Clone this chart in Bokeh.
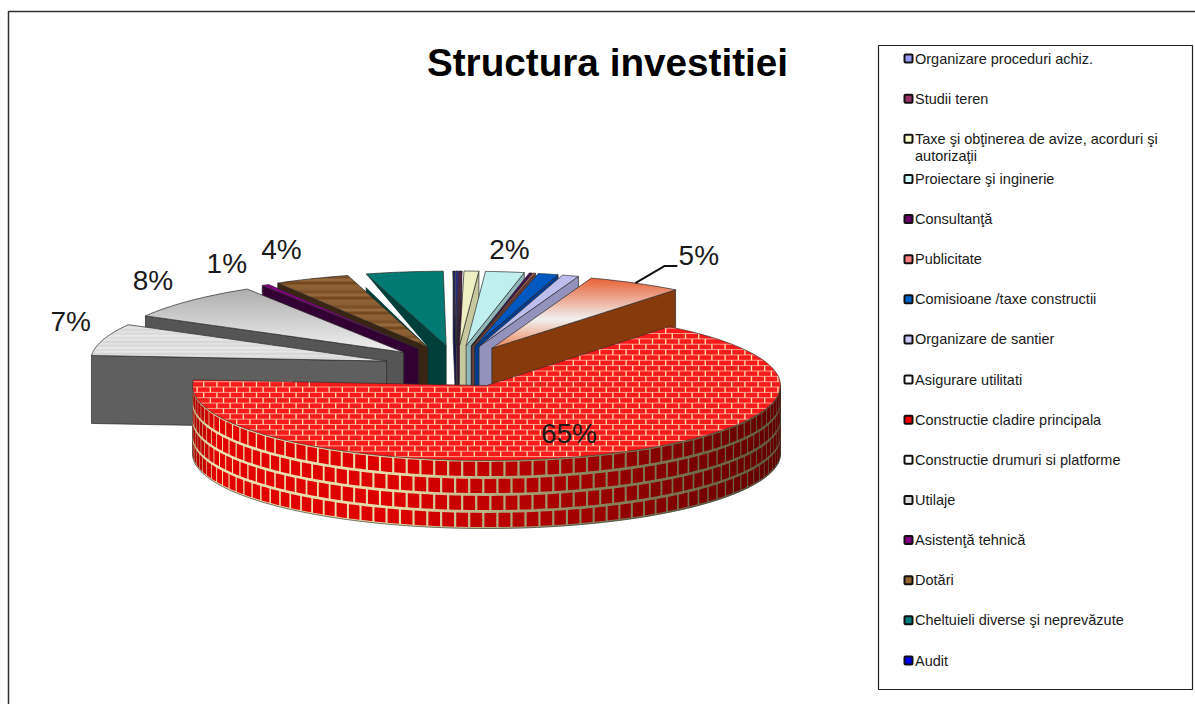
import math
import numpy as np
from bokeh.plotting import figure
from bokeh.models import Range1d
from bokeh.core.properties import value
from bokeh.embed import file_html
from bokeh.resources import INLINE

# ---------- data ----------
title_text = "Structura investitiei"
categories = ["Organizare proceduri achiz.", "Studii teren",
              "Taxe şi obţinerea de avize, acorduri şi\nautorizaţii",
              "Proiectare şi inginerie", "Consultanţă", "Publicitate",
              "Comisioane /taxe constructii", "Organizare de santier",
              "Asigurare utilitati", "Constructie cladire principala",
              "Constructie drumuri si platforme", "Utilaje", "Asistenţă tehnică",
              "Dotări", "Cheltuieli diverse şi neprevăzute", "Audit"]
shares = [0.15, 0.15, 0.8, 2.1, 0.15, 0.15, 1.1, 0.9, 5.2, 65.5, 6.9, 8.0, 0.4, 4.1, 4.2, 0.1]
shown_labels = {3: "2%", 8: "5%", 9: "65%", 10: "7%", 11: "8%", 12: "1%", 13: "4%"}

# ---------- styles ----------
legend_fill = ["#9999FF", "#993366", "#FFFFCC", "#CCFFFF", "#660066", "#FF8080", "#0066CC", "#CCCCFF",
               "#FFFFFF", "#FF0000", "#FFFFFF", "#DDDDDD", "#800080", "#996633", "#008080", "#0000FF"]
top_fill = ["#2A2A90", "#5A2050", "#EFEFC4", "#BFEFEF", "#500060", "#A06050", "#0058C0", "#BEBEEE",
            "#F0F0F0", "#FA1A1A", "#DCDCDC", "#D0D0D0", "#800080", "#85572B", "#007A72", "#1A1A80"]
side_fill = ["#181860", "#3A1435", "#C8C89E", "#90B8B8", "#300038", "#704038", "#003C90", "#9292BC",
             "#873A0C", "#900000", "#5F5F5F", "#555555", "#330033", "#3A2412", "#003F3A", "#101050"]
OUTLINE = "#2A2A2A"
MAIN = 9
START = 90.2
CX, CY, RX, RY, DEPTH = 486.0, 385.0, 294.0, 75.0, 68.0   # main slice
EX0, EY0, EXPL_X, EXPL_Y, RX2, RY2 = 456.0, 367.0, 73.0, 22.0, 296.0, 74.5  # exploded slices
LABEL_NUDGE = {3: (0, 3), 8: (47, -5), 10: (0, -11), 11: (-12, -3), 12: (-21, 0), 13: (-17, -6)}


def lerp_hex(a, b, t):
    a = [int(a[i:i + 2], 16) for i in (1, 3, 5)]
    b = [int(b[i:i + 2], 16) for i in (1, 3, 5)]
    return "#%02X%02X%02X" % tuple(round(u + (v - u) * t) for u, v in zip(a, b))


def clip_y(poly, lo, hi):
    def clip(pts, keep, cross):
        out = []
        for i in range(len(pts)):
            a, b = pts[i], pts[(i + 1) % len(pts)]
            if keep(a):
                out.append(a)
            if keep(a) != keep(b):
                t = (cross - a[1]) / (b[1] - a[1])
                out.append((a[0] + (b[0] - a[0]) * t, cross))
        return out
    pts = clip(poly, lambda q: q[1] >= lo, lo)
    if pts:
        pts = clip(pts, lambda q: q[1] <= hi, hi)
    return pts


def inside(poly, x, y):
    c = False
    for i in range(len(poly)):
        (x1, y1), (x2, y2) = poly[i], poly[(i + 1) % len(poly)]
        if (y1 > y) != (y2 > y) and x < x1 + (y - y1) * (x2 - x1) / (y2 - y1):
            c = not c
    return c


p = figure(width=1195, height=704, x_range=Range1d(0, 1195), y_range=Range1d(704, 0),
           output_backend="svg", toolbar_location=None, x_axis_type=None, y_axis_type=None,
           min_border=0, outline_line_color=None, background_fill_color="white", border_fill_color="white")
p.grid.visible = False

# outer frame
p.line([8, 8, 1195], [704, 11, 11], line_color="#303030", line_width=1.5)


def band_fill(poly, color_at, step=2.0):
    ys = [q[1] for q in poly]
    xs_all, ys_all, cols = [], [], []
    y = min(ys)
    while y < max(ys):
        part = clip_y(poly, y, y + step + 0.4)
        if len(part) >= 3:
            xs_all.append([q[0] for q in part])
            ys_all.append([q[1] for q in part])
            cols.append(color_at(y))
        y += step
    p.patches(xs_all, ys_all, fill_color=cols, line_color=None)


fractions = np.array(shares) / sum(shares) * 360.0
ends = START - np.cumsum(fractions)
starts = ends + fractions
mids = (starts + ends) / 2.0
wrap = ((mids + 90.0) % 360.0 - 90.0) - mids      # slices past -180 deg are read on the left side
starts, ends, mids = starts + wrap, ends + wrap, mids + wrap
apex = [(EX0 + EXPL_X * math.cos(math.radians(m)), EY0 - EXPL_Y * math.sin(math.radians(m))) for m in mids]


def gray_grad(y, y0=285.0, y1=352.0):
    return lerp_hex("#ABABAB", "#F2F2F2", min(1, max(0, (y - y0) / (y1 - y0))))


def peach_grad(y):
    if y < 318:
        return lerp_hex("#E8663A", "#F0F0F0", min(1, max(0, (y - 278) / 40)))
    return lerp_hex("#F0F0F0", "#F08050", min(1, (y - 318) / 30))


WOOD = ["#8B5E34", "#7C5029", "#96693C", "#74491F", "#8F6236"]
SPECKLE = ["#DCDCDC", "#E6E6E6", "#D6D6D6", "#E2E2E2", "#D9D9D9", "#E8E8E8"]


def arc_of(i):
    ax, ay = apex[i]
    th = np.radians(np.linspace(starts[i], ends[i], 24))
    return [(ax + RX2 * math.cos(t), ay - RY2 * math.sin(t)) for t in th]


order = sorted([i for i in range(len(shares)) if i != MAIN], key=lambda i: abs(mids[i] - 90))
for i in order:
    ax, ay = apex[i]
    arc = arc_of(i)
    near = arc[0] if mids[i] > 90 else arc[-1]
    poly = [(ax, ay)] + arc
    # cut face
    p.patch([ax, near[0], near[0], ax], [ay, near[1], near[1] + DEPTH, ay + DEPTH],
            fill_color=side_fill[i], line_color=OUTLINE, line_width=0.7)
    # open notch between the teal and brown slices, seen in the picture
    if i == 14:
        b_far, b_apex, t_near = arc_of(13)[-1], apex[13], near
        p.patch([b_far[0], t_near[0], b_apex[0]], [b_far[1] - 6, t_near[1], b_apex[1]],
                fill_color="white", line_color=None)
    # top surface
    xs, ys = [q[0] for q in poly], [q[1] for q in poly]
    if i == 8:
        band_fill(poly, peach_grad)
    elif i == 11:
        band_fill(poly, gray_grad)
    elif i == 13:
        band_fill(poly, lambda y: WOOD[int(y / 3) % len(WOOD)], step=3.0)
    elif i == 10:
        band_fill(poly, lambda y: SPECKLE[int(y / 2) % len(SPECKLE)], step=2.0)
    else:
        p.patch(xs, ys, fill_color=top_fill[i], line_color=None)
    p.patch(xs, ys, fill_color=None, line_color=OUTLINE, line_width=0.7)


# ----- main slice side: brick courses -----
def main_pt(deg, z=0.0):
    t = math.radians(deg)
    return CX + RX * math.cos(t), CY - RY * math.sin(t) + z


SHADE_X = [192, 215, 400, 570, 700, 780]
BRICK_R = [0xA8, 0xE4, 0xDC, 0xA4, 0x78, 0x60]
MORTAR_R = [0xC8, 0xEC, 0xE6, 0x90, 0x70, 0x5E]
MORTAR_G = [0xC0, 0xE0, 0xDA, 0x8B, 0x6A, 0x58]
MORTAR_B = [0x90, 0xB0, 0xA8, 0x63, 0x48, 0x3C]


def brick_col(x):
    return "#%02X0000" % round(np.interp(x, SHADE_X, BRICK_R))


def mortar_col(x):
    return "#%02X%02X%02X" % (round(np.interp(x, SHADE_X, MORTAR_R)),
                              round(np.interp(x, SHADE_X, MORTAR_G)),
                              round(np.interp(x, SHADE_X, MORTAR_B)))


deg_steps = np.arange(-180.0, 0.01, 1.5)
mx, my, mc = [], [], []
for a0, a1 in zip(deg_steps[:-1], deg_steps[1:]):
    P0, P1 = main_pt(a0), main_pt(a1)
    mx.append([P0[0], P1[0], P1[0], P0[0]])
    my.append([P0[1], P1[1], P1[1] + DEPTH, P0[1] + DEPTH])
    mc.append(mortar_col((P0[0] + P1[0]) / 2))
p.patches(mx, my, fill_color=mc, line_color=mc, line_width=0.6)

COURSE = DEPTH / 4
BRICK_DEG = 2.75
bx, by, bc = [], [], []
for c in range(4):
    z0, z1 = c * COURSE + 1.4, (c + 1) * COURSE - 1.4
    d = -180.0 - (BRICK_DEG / 2 if c % 2 else 0)
    while d < 0:
        a0, a1 = max(d + 0.22, -180.0), min(d + BRICK_DEG - 0.22, 0.0)
        if a1 > a0:
            am = (a0 + a1) / 2
            P0, Pm, P1 = main_pt(a0), main_pt(am), main_pt(a1)
            bx.append([P0[0], Pm[0], P1[0], P1[0], Pm[0], P0[0]])
            by.append([P0[1] + z0, Pm[1] + z0, P1[1] + z0, P1[1] + z1, Pm[1] + z1, P0[1] + z1])
            bc.append(brick_col(Pm[0]))
        d += BRICK_DEG
p.patches(bx, by, fill_color=bc, line_color=None)

# ----- main slice top: brick pattern -----
th = np.linspace(starts[MAIN], ends[MAIN], 160)
top_poly = [(CX, CY)] + [main_pt(d) for d in th]
p.patch([q[0] for q in top_poly], [q[1] for q in top_poly], fill_color=top_fill[MAIN], line_color=None)

ROW = 5.35
BRICK_W = 13.2
hx, hy, vx, vy = [], [], [], []
y = min(q[1] for q in top_poly) + 1.5
row = 0
while y < max(q[1] for q in top_poly):
    cross = []
    for k in range(len(top_poly)):
        (x1, y1), (x2, y2) = top_poly[k], top_poly[(k + 1) % len(top_poly)]
        if (y1 > y) != (y2 > y):
            cross.append(x1 + (y - y1) * (x2 - x1) / (y2 - y1))
    cross.sort()
    for a, b in zip(cross[::2], cross[1::2]):
        hx.append([a, b])
        hy.append([y, y])
    xv = 190 + (BRICK_W / 2 if row % 2 else 0)
    while xv < 785:
        if inside(top_poly, xv, y + 0.5) and inside(top_poly, xv, y + ROW - 0.5):
            vx.append([xv, xv])
            vy.append([y, y + ROW])
        xv += BRICK_W
    y += ROW
    row += 1
p.multi_line(hx, hy, line_color="#FF9C8C", line_width=1.0)
p.multi_line(vx, vy, line_color="#FFE4B4", line_width=1.3)
p.patch([q[0] for q in top_poly], [q[1] for q in top_poly], fill_color=None, line_color="#2A2A2A", line_width=0.6)
rim = [main_pt(d) for d in np.linspace(-180, 0, 120)]
p.line([q[0] for q in rim], [q[1] + DEPTH for q in rim], line_color="#2A2A2A", line_width=0.6)
p.line([CX - RX, CX - RX], [CY, CY + DEPTH], line_color="#2A2A2A", line_width=0.5)
p.line([CX + RX, CX + RX], [CY, CY + DEPTH], line_color="#2A2A2A", line_width=0.5)

# ----- data labels -----
LABEL_FONT = value("Liberation Sans")
for i, txt in shown_labels.items():
    m = math.radians(mids[i])
    if i == MAIN:
        lx = CX + 0.7 * RX * math.cos(m)
        ly = CY - 0.7 * RY * math.sin(m)
    else:
        dx, dy = LABEL_NUDGE[i]
        lx = apex[i][0] + 330 * math.cos(m) + dx
        ly = apex[i][1] - 100 * math.sin(m) + dy
    p.text([lx], [ly], text=[txt], text_font=LABEL_FONT, text_font_size="28px", text_color="#1A1A1A",
           text_align="center", text_baseline="middle")

# leader of the 5% label
m = math.radians(mids[8])
lead_x = apex[8][0] + RX2 * math.cos(m)
lead_y = apex[8][1] - RY2 * math.sin(m)
p.line([lead_x, lead_x + 29, lead_x + 42], [lead_y, lead_y - 17, lead_y - 17], line_color="#111111", line_width=2)

# ----- title -----
p.text([607], [62], text=[title_text], text_font=LABEL_FONT, text_font_style="bold", text_font_size="38.7px",
       text_color="black", text_align="center", text_baseline="middle")

# ----- legend -----
LX0, LX1, LY0, LY1 = 878.0, 1192.0, 45.0, 689.0
p.patch([LX0, LX1, LX1, LX0], [LY0, LY0, LY1, LY1], fill_color="white", line_color="#202020", line_width=1.2)
STEP = (660.0 - 58.0) / (len(categories) - 1)
for i, name in enumerate(categories):
    yy = 58.0 + STEP * i
    p.rect([908.0], [yy], width=8, height=8, fill_color=legend_fill[i], line_color="#111111", line_width=2,
           border_radius=1)
    for n, part in enumerate(name.split("\n")):
        p.text([914.5], [yy + n * 17], text=[part], text_font=LABEL_FONT,
               text_font_size="14.5px", text_color="#1A1A1A", text_align="left", text_baseline="middle")

open("out.html", "w").write(file_html(p, INLINE))
